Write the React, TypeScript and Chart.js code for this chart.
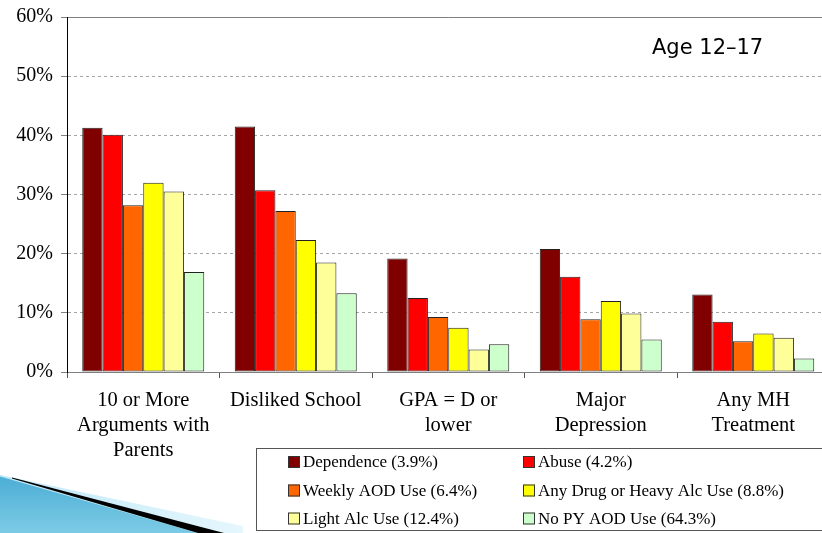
import React, { useEffect, useRef } from "react";
import { Chart, registerables } from "chart.js";

Chart.register(...registerables);

const categories: (string | string[])[] = [
  ["10 or More", "Arguments with", "Parents"],
  "Disliked School",
  ["GPA = D or", "lower"],
  ["Major", "Depression"],
  ["Any MH", "Treatment"],
];

const seriesLabels = [
  "Dependence (3.9%)",
  "Abuse (4.2%)",
  "Weekly AOD Use (6.4%)",
  "Any Drug or Heavy Alc Use (8.8%)",
  "Light Alc Use (12.4%)",
  "No PY AOD Use (64.3%)",
];

const seriesColors = ["#800000", "#FF0000", "#FF6600", "#FFFF00", "#FFFF99", "#CCFFCC"];

const dependence = [41.3, 41.5, 19.2, 20.8, 13.1];
const abuse = [40.1, 30.7, 12.5, 16.1, 8.5];
const weeklyAOD = [28.2, 27.2, 9.3, 8.9, 5.2];
const anyDrugHeavyAlc = [32.0, 22.3, 7.5, 12.0, 6.5];
const lightAlc = [30.5, 18.5, 3.8, 9.9, 5.8];
const noPYAOD = [16.9, 13.3, 4.7, 5.5, 2.3];

const seriesValues = [dependence, abuse, weeklyAOD, anyDrugHeavyAlc, lightAlc, noPYAOD];

const yMin = 0;
const yMax = 60;
const yStep = 10;
const titleText = "Age 12–17";

// canvas is shifted up by DY pixels; overlay drawings compensate
const DY = 3;

const decorationPlugin = {
  id: "decoration",
  beforeDraw(chart: any) {
    const ctx = chart.ctx as CanvasRenderingContext2D;
    ctx.save();
    ctx.translate(0, DY);
    let g = ctx.createLinearGradient(0, 0, 245, 0);
    g.addColorStop(0, "#bfe8f7");
    g.addColorStop(1, "#e6f7fd");
    ctx.fillStyle = g;
    ctx.beginPath();
    ctx.moveTo(0, 475);
    ctx.lineTo(243, 526);
    ctx.lineTo(243, 533);
    ctx.lineTo(0, 533);
    ctx.closePath();
    ctx.fill();
    g = ctx.createLinearGradient(0, 480, 0, 533);
    g.addColorStop(0, "#4fb0d6");
    g.addColorStop(1, "#7ccbe6");
    ctx.fillStyle = g;
    ctx.beginPath();
    ctx.moveTo(0, 476.5);
    ctx.lineTo(198, 533);
    ctx.lineTo(0, 533);
    ctx.closePath();
    ctx.fill();
    ctx.fillStyle = "#000";
    ctx.beginPath();
    ctx.moveTo(12, 477.5);
    ctx.lineTo(224, 533);
    ctx.lineTo(198, 533);
    ctx.lineTo(12, 478.5);
    ctx.closePath();
    ctx.fill();
    ctx.restore();
  },
};

const overlayPlugin = {
  id: "overlay",
  afterDraw(chart: any) {
    const ctx = chart.ctx as CanvasRenderingContext2D;
    ctx.save();
    ctx.translate(0, DY);
    ctx.fillStyle = "#000";
    ctx.font = '21px "DejaVu Sans"';
    ctx.textAlign = "left";
    ctx.textBaseline = "alphabetic";
    ctx.fillText(titleText, 652, 54);

    ctx.fillStyle = "#fff";
    ctx.fillRect(256, 448, 600, 83);
    ctx.strokeStyle = "#555";
    ctx.lineWidth = 1;
    ctx.strokeRect(256.5, 448.5, 600, 82);

    ctx.font = '17px "Liberation Serif"';
    ctx.textBaseline = "middle";
    const colX = [288, 523];
    const rowY = [462, 490.5, 518.5];
    chart.data.datasets.forEach((ds: any, i: number) => {
      const cx = colX[i % 2];
      const cy = rowY[Math.floor(i / 2)];
      ctx.fillStyle = ds.backgroundColor;
      ctx.fillRect(cx, cy - 6, 12, 12);
      ctx.strokeStyle = "#333";
      ctx.strokeRect(cx + 0.5, cy - 5.5, 11, 11);
      ctx.fillStyle = "#000";
      ctx.fillText(ds.label, cx + 15, cy + 1);
    });
    ctx.restore();
  },
};

export default function App() {
  const ref = useRef<HTMLCanvasElement | null>(null);

  useEffect(() => {
    if (!ref.current) return;
    const chart = new Chart(ref.current, {
      type: "bar",
      data: {
        labels: categories,
        datasets: seriesValues.map((vals, i) => ({
          label: seriesLabels[i],
          data: vals,
          backgroundColor: seriesColors[i],
          borderColor: "#222",
          borderWidth: 1,
          borderSkipped: false,
          categoryPercentage: 0.8,
          barPercentage: 1.0,
        })),
      },
      options: {
        animation: false,
        responsive: false,
        devicePixelRatio: 1,
        layout: { padding: { top: 10, left: 0, right: 10.5, bottom: 0 } },
        plugins: {
          legend: { display: false },
          tooltip: { enabled: false },
          title: { display: false },
        },
        scales: {
          x: {
            grid: {
              display: true,
              drawOnChartArea: false,
              drawTicks: true,
              tickLength: 6,
              tickColor: "#555",
              offset: true,
            },
            border: { display: true, color: "#808080", width: 1 },
            ticks: {
              color: "#000",
              padding: 10,
              font: { family: "Liberation Serif", size: 20.5, lineHeight: 1.22 },
              maxRotation: 0,
              autoSkip: false,
            },
            afterFit(scale: any) {
              scale.height = 161;
            },
          },
          y: {
            min: yMin,
            max: yMax,
            ticks: {
              stepSize: yStep,
              color: "#000",
              padding: 8,
              font: { family: "Liberation Serif", size: 20 },
              callback: (v: any) => v + "%",
            },
            grid: {
              color: (c: any) =>
                c.tick && (c.tick.value === yMin || c.tick.value === yMax) ? "#808080" : "#a6a6a6",
              lineWidth: 1,
              drawTicks: true,
              tickLength: 6,
              tickColor: "#808080",
            },
            border: {
              display: true,
              color: "#000",
              width: 1,
              dash: (c: any) =>
                c.tick && c.tick.value !== yMin && c.tick.value !== yMax ? [3, 3] : [],
            },
            afterFit(scale: any) {
              scale.width = 67;
            },
          },
        },
      },
      plugins: [decorationPlugin, overlayPlugin],
    });
    return () => chart.destroy();
  }, []);

  return (
    <div
      style={{
        position: "absolute",
        left: 0,
        top: 0,
        width: 822,
        height: 533,
        overflow: "hidden",
        background: "#fff",
      }}
    >
      <canvas
        ref={ref}
        width={840}
        height={536}
        style={{ display: "block", marginTop: -DY }}
      />
    </div>
  );
}
